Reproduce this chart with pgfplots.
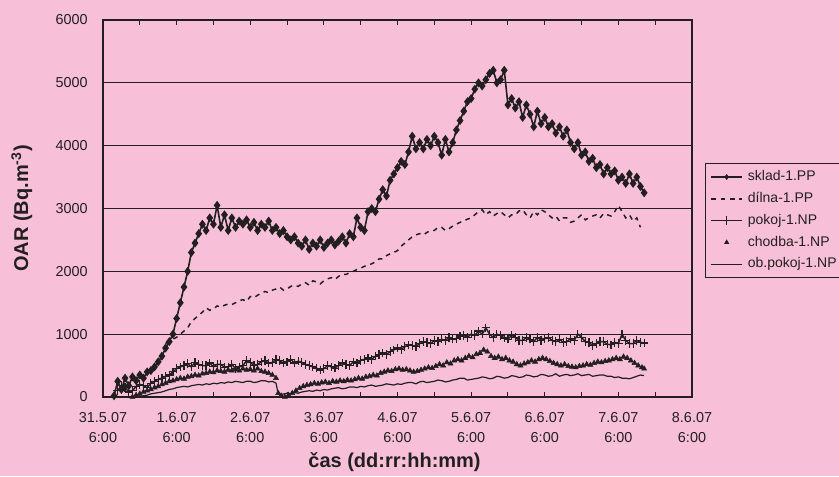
\documentclass[border=0pt]{standalone}
\usepackage{fontspec}
\setmainfont{Liberation Sans}
\usepackage{pgfplots}
\pgfplotsset{compat=1.18}
\definecolor{pinkbg}{RGB}{247,192,216}
\definecolor{ink}{RGB}{35,31,32}
\begin{document}
\begin{tikzpicture}
\path[use as bounding box] (0,0) rectangle (629.25pt,357pt);
\fill[pinkbg] (0,0) rectangle (629.25pt,357pt);
\begin{axis}[
    at={(77.25pt,59.25pt)}, anchor=south west,
    width=441.75pt, height=282.75pt, scale only axis,
    xmin=0, xmax=8, ymin=0, ymax=6000,
    axis line style={ink, line width=0.9pt},
    xtick={0,...,8},
    minor xtick={0.5,1.5,...,7.5},
    xticklabels={{31.5.07\\6:00},{1.6.07\\6:00},{2.6.07\\6:00},{3.6.07\\6:00},{4.6.07\\6:00},{5.6.07\\6:00},{6.6.07\\6:00},{7.6.07\\6:00},{8.6.07\\6:00}},
    xticklabel style={align=center, font=\fontsize{10.8}{15}\selectfont, yshift=-8pt, text=ink},
    ytick={0,1000,...,6000},
    yticklabel style={font=\fontsize{10.8}{13}\selectfont, xshift=-8pt, text=ink},
    /pgf/number format/assume math mode=true,
    /pgf/number format/1000 sep={},
    tick align=inside,
    major tick length=4pt, minor tick length=4pt,
    xtick style={ink, line width=0.7pt},
    minor tick style={ink, line width=0.7pt},
    ytick style={draw=none},
    ymajorgrids=true,
    grid style={ink, line width=0.8pt},
    xlabel={čas (dd:rr:hh:mm)},
    xlabel style={at={(axis description cs:0.495,-0.172)}, anchor=center, font=\bfseries\fontsize{15}{18}\selectfont, text=ink},
    ylabel={OAR (Bq.m\textsuperscript{-3})},
    ylabel style={at={(axis description cs:-0.138,0.5)}, anchor=center, font=\bfseries\fontsize{15}{18}\selectfont, text=ink},
    legend cell align=left,
    legend style={at={(axis description cs:1.022,0.621)}, anchor=north west,
        draw=ink, line width=0.7pt, fill=none,
        font=\fontsize{10.5}{12}\selectfont, text=ink,
        nodes={inner sep=0pt, text height=8pt, text depth=2.5pt},
        column sep=4pt,
        row sep=5.85pt, inner xsep=4pt, inner ysep=5pt},
    legend image code/.code={\draw[mark repeat=2,mark phase=2,#1] plot coordinates {(0cm,0cm) (0.4cm,0cm) (0.8cm,0cm)};},
]
% sklad-1.PP
\addplot[ink, line width=1.2pt, mark=diamond*, mark size=2.4pt, mark options={solid, fill=ink},
    legend image post style={line width=0.8pt, mark size=1.6pt}] coordinates {
(0.15,20)(0.20,250)(0.25,120)(0.30,300)(0.35,180)(0.40,320)(0.45,260)(0.50,350)(0.55,300)(0.60,400)
(0.65,420)(0.70,480)(0.75,560)(0.80,650)(0.85,780)(0.90,880)(0.95,1000)(1.00,1250)(1.05,1500)(1.10,1750)
(1.15,2000)(1.20,2300)(1.25,2450)(1.30,2600)(1.35,2750)(1.40,2650)(1.45,2850)(1.50,2750)(1.55,3050)(1.60,2700)
(1.65,2900)(1.70,2650)(1.75,2850)(1.80,2700)(1.85,2800)(1.90,2750)(1.95,2820)(2.00,2700)(2.05,2780)(2.10,2650)
(2.15,2750)(2.20,2700)(2.25,2800)(2.30,2650)(2.35,2700)(2.40,2600)(2.45,2650)(2.50,2550)(2.55,2500)(2.60,2550)
(2.65,2450)(2.70,2400)(2.75,2500)(2.80,2350)(2.85,2450)(2.90,2400)(2.95,2500)(3.00,2380)(3.05,2450)(3.10,2500)
(3.15,2420)(3.20,2480)(3.25,2550)(3.30,2450)(3.35,2600)(3.40,2550)(3.45,2850)(3.50,2700)(3.55,2650)(3.60,2950)
(3.65,3000)(3.70,2950)(3.75,3150)(3.80,3300)(3.85,3200)(3.90,3450)(3.95,3550)(4.00,3650)(4.05,3750)(4.10,3700)
(4.15,3900)(4.20,4150)(4.25,3950)(4.30,4050)(4.35,3950)(4.40,4100)(4.45,4000)(4.50,4150)(4.55,4050)(4.60,3850)
(4.65,4100)(4.70,3900)(4.75,4050)(4.80,4250)(4.85,4400)(4.90,4550)(4.95,4700)(5.00,4750)(5.05,4900)(5.10,5000)
(5.15,4950)(5.20,5050)(5.25,5150)(5.30,5200)(5.35,5000)(5.40,5050)(5.45,5200)(5.50,4650)(5.55,4750)(5.60,4600)
(5.65,4700)(5.70,4450)(5.75,4650)(5.80,4500)(5.85,4300)(5.90,4550)(5.95,4350)(6.00,4450)(6.05,4300)(6.10,4350)
(6.15,4200)(6.20,4300)(6.25,4150)(6.30,4250)(6.35,4050)(6.40,3950)(6.45,4050)(6.50,3850)(6.55,3900)(6.60,3750)
(6.65,3800)(6.70,3650)(6.75,3700)(6.80,3550)(6.85,3650)(6.90,3550)(6.95,3600)(7.00,3450)(7.05,3500)(7.10,3400)
(7.15,3550)(7.20,3400)(7.25,3500)(7.30,3350)(7.35,3250)
};
\addlegendentry{sklad-1.PP}
% dilna-1.PP
\addplot[ink, line width=1.1pt, dash pattern=on 3.5pt off 3.5pt] coordinates {
(0.85,850)(0.90,900)(0.95,920)(1.00,950)(1.05,1000)(1.10,1050)(1.15,1100)(1.20,1200)(1.25,1250)(1.30,1300)
(1.35,1350)(1.40,1420)(1.45,1380)(1.50,1400)(1.55,1450)(1.60,1430)(1.65,1460)(1.70,1480)(1.75,1470)(1.80,1500)
(1.85,1530)(1.90,1550)(1.95,1520)(2.00,1600)(2.05,1580)(2.10,1620)(2.15,1650)(2.20,1680)(2.25,1660)(2.30,1700)
(2.35,1720)(2.40,1750)(2.45,1700)(2.50,1720)(2.55,1760)(2.60,1780)(2.65,1760)(2.70,1800)(2.75,1820)(2.80,1780)
(2.85,1850)(2.90,1830)(2.95,1800)(3.00,1850)(3.05,1880)(3.10,1900)(3.15,1870)(3.20,1920)(3.25,1950)(3.30,1950)
(3.35,1980)(3.40,2000)(3.45,2030)(3.50,2050)(3.55,2080)(3.60,2100)(3.65,2120)(3.70,2150)(3.75,2200)(3.80,2200)
(3.85,2250)(3.90,2280)(3.95,2300)(4.00,2330)(4.05,2400)(4.10,2450)(4.15,2500)(4.20,2550)(4.25,2580)(4.30,2600)
(4.35,2580)(4.40,2620)(4.45,2650)(4.50,2650)(4.55,2700)(4.60,2700)(4.65,2650)(4.70,2680)(4.75,2720)(4.80,2750)
(4.85,2780)(4.90,2800)(4.95,2830)(5.00,2850)(5.05,2900)(5.10,2950)(5.15,2980)(5.20,2900)(5.25,2950)(5.30,2880)
(5.35,2920)(5.40,2950)(5.45,2900)(5.50,2850)(5.55,2900)(5.60,2900)(5.65,2960)(5.70,2980)(5.75,2900)(5.80,2850)
(5.85,2950)(5.90,2900)(5.95,2980)(6.00,2950)(6.05,2900)(6.10,2850)(6.15,2880)(6.20,2800)(6.25,2850)(6.30,2850)
(6.35,2780)(6.40,2800)(6.45,2850)(6.50,2900)(6.55,2820)(6.60,2850)(6.65,2880)(6.70,2900)(6.75,2850)(6.80,2920)
(6.85,2900)(6.90,2880)(6.95,2950)(7.00,3050)(7.05,2950)(7.10,2850)(7.15,2900)(7.20,2800)(7.25,2850)(7.30,2700)
};
\addlegendentry{dílna-1.PP}
% pokoj-1.NP
\addplot[ink, line width=1.1pt, mark=+, mark size=3.2pt, mark options={solid, line width=0.9pt}] coordinates {
(0.20,100)(0.25,180)(0.30,150)(0.35,80)(0.40,100)(0.45,170)(0.50,200)(0.55,180)(0.60,150)(0.65,220)
(0.70,250)(0.75,280)(0.80,300)(0.85,330)(0.90,350)(0.95,400)(1.00,450)(1.05,480)(1.10,500)(1.15,530)
(1.20,480)(1.25,550)(1.30,520)(1.35,500)(1.40,500)(1.45,540)(1.50,480)(1.55,520)(1.60,520)(1.65,470)
(1.70,480)(1.75,520)(1.80,450)(1.85,480)(1.90,500)(1.95,580)(2.00,550)(2.05,500)(2.10,520)(2.15,560)
(2.20,580)(2.25,540)(2.30,550)(2.35,600)(2.40,580)(2.45,540)(2.50,560)(2.55,600)(2.60,540)(2.65,570)
(2.70,550)(2.75,520)(2.80,500)(2.85,480)(2.90,460)(2.95,430)(3.00,450)(3.05,500)(3.10,480)(3.15,460)
(3.20,500)(3.25,540)(3.30,520)(3.35,500)(3.40,560)(3.45,540)(3.50,580)(3.55,600)(3.60,620)(3.65,600)
(3.70,650)(3.75,680)(3.80,700)(3.85,680)(3.90,720)(3.95,750)(4.00,780)(4.05,760)(4.10,800)(4.15,830)
(4.20,820)(4.25,800)(4.30,850)(4.35,880)(4.40,870)(4.45,850)(4.50,900)(4.55,880)(4.60,920)(4.65,900)
(4.70,950)(4.75,920)(4.80,930)(4.85,970)(4.90,980)(4.95,950)(5.00,1000)(5.05,980)(5.10,1050)(5.15,1000)
(5.20,1100)(5.25,1000)(5.30,950)(5.35,1000)(5.40,980)(5.45,940)(5.50,920)(5.55,980)(5.60,950)(5.65,900)
(5.70,900)(5.75,950)(5.80,920)(5.85,880)(5.90,950)(5.95,900)(6.00,930)(6.05,950)(6.10,900)(6.15,880)
(6.20,920)(6.25,870)(6.30,880)(6.35,930)(6.40,900)(6.45,1000)(6.50,950)(6.55,880)(6.60,870)(6.65,820)
(6.70,850)(6.75,880)(6.80,880)(6.85,840)(6.90,830)(6.95,870)(7.00,850)(7.05,1000)(7.10,900)(7.15,850)
(7.20,850)(7.25,900)(7.30,870)(7.35,860)
};
\addlegendentry{pokoj-1.NP}
% chodba-1.NP
\addplot[ink, only marks, mark=triangle*, mark size=2.2pt, mark options={fill=ink},
    legend image post style={mark size=1.6pt}] coordinates {
(0.40,0)(0.45,30)(0.50,50)(0.55,80)(0.60,100)(0.65,120)(0.70,150)(0.75,170)(0.80,200)(0.85,220)
(0.90,250)(0.95,260)(1.00,280)(1.05,300)(1.10,290)(1.15,320)(1.20,330)(1.25,350)(1.30,340)(1.35,370)
(1.40,380)(1.45,400)(1.50,390)(1.55,420)(1.60,410)(1.65,400)(1.70,430)(1.75,420)(1.80,440)(1.85,420)
(1.90,450)(1.95,430)(2.00,440)(2.05,420)(2.10,450)(2.15,410)(2.20,400)(2.25,380)(2.30,350)(2.35,300)
(2.38,60)(2.42,20)(2.47,0)(2.52,30)(2.57,60)(2.62,100)(2.67,140)(2.72,170)(2.77,190)(2.82,200)
(2.87,220)(2.92,210)(2.97,230)(3.02,240)(3.07,220)(3.12,250)(3.17,240)(3.22,260)(3.27,250)(3.32,270)
(3.37,260)(3.42,280)(3.47,300)(3.52,290)(3.57,320)(3.62,330)(3.67,350)(3.72,340)(3.77,380)(3.82,400)
(3.87,420)(3.92,410)(3.97,440)(4.02,450)(4.07,430)(4.12,440)(4.17,420)(4.22,400)(4.27,410)(4.32,430)
(4.37,450)(4.42,470)(4.47,460)(4.52,490)(4.57,520)(4.62,500)(4.67,550)(4.72,530)(4.77,580)(4.82,600)
(4.87,580)(4.92,620)(4.97,650)(5.02,630)(5.07,680)(5.12,700)(5.17,750)(5.22,720)(5.27,650)(5.32,620)
(5.37,640)(5.42,600)(5.47,620)(5.52,580)(5.57,560)(5.62,520)(5.67,500)(5.72,530)(5.77,550)(5.82,580)
(5.87,560)(5.92,600)(5.97,620)(6.02,600)(6.07,570)(6.12,540)(6.17,520)(6.22,500)(6.27,520)(6.32,490)
(6.37,480)(6.42,470)(6.47,490)(6.52,500)(6.57,520)(6.62,510)(6.67,540)(6.72,560)(6.77,550)(6.82,570)
(6.87,580)(6.92,600)(6.97,620)(7.02,600)(7.07,640)(7.12,620)(7.17,580)(7.22,540)(7.27,500)(7.32,470)
(7.35,450)
};
\addlegendentry{chodba-1.NP}
% ob.pokoj-1.NP
\addplot[ink, line width=0.9pt] coordinates {
(0.50,0)(0.55,20)(0.60,30)(0.65,50)(0.70,60)(0.75,70)(0.80,80)(0.85,100)(0.90,120)(0.95,130)
(1.00,150)(1.05,160)(1.10,170)(1.15,160)(1.20,180)(1.25,190)(1.30,200)(1.35,190)(1.40,210)(1.45,200)
(1.50,220)(1.55,210)(1.60,230)(1.65,220)(1.70,240)(1.75,230)(1.80,250)(1.85,240)(1.90,230)(1.95,250)
(2.00,250)(2.05,230)(2.10,240)(2.15,260)(2.20,260)(2.25,240)(2.30,250)(2.35,220)(2.38,50)(2.42,40)
(2.50,60)(2.55,50)(2.60,70)(2.65,60)(2.70,80)(2.75,90)(2.80,100)(2.85,90)(2.90,110)(2.95,100)
(3.00,120)(3.05,110)(3.10,130)(3.15,140)(3.20,150)(3.25,130)(3.30,140)(3.35,160)(3.40,160)(3.45,150)
(3.50,170)(3.55,160)(3.60,180)(3.65,190)(3.70,170)(3.75,180)(3.80,190)(3.85,210)(3.90,200)(3.95,190)
(4.00,210)(4.05,200)(4.10,220)(4.15,230)(4.20,230)(4.25,210)(4.30,240)(4.35,250)(4.40,230)(4.45,240)
(4.50,250)(4.55,270)(4.60,260)(4.65,240)(4.70,250)(4.75,270)(4.80,280)(4.85,300)(4.90,300)(4.95,270)
(5.00,280)(5.05,290)(5.10,300)(5.15,320)(5.20,310)(5.25,290)(5.30,300)(5.35,330)(5.40,320)(5.45,300)
(5.50,310)(5.55,340)(5.60,330)(5.65,310)(5.70,320)(5.75,350)(5.80,340)(5.85,320)(5.90,330)(5.95,360)
(6.00,350)(6.05,330)(6.10,340)(6.15,370)(6.20,330)(6.25,350)(6.30,360)(6.35,340)(6.40,350)(6.45,370)
(6.50,340)(6.55,350)(6.60,360)(6.65,330)(6.70,340)(6.75,350)(6.80,350)(6.85,330)(6.90,330)(6.95,310)
(7.00,320)(7.05,300)(7.10,300)(7.15,290)(7.20,310)(7.25,330)(7.30,350)(7.35,340)
};
\addlegendentry{ob.pokoj-1.NP}
\end{axis}
\end{tikzpicture}
\end{document}
